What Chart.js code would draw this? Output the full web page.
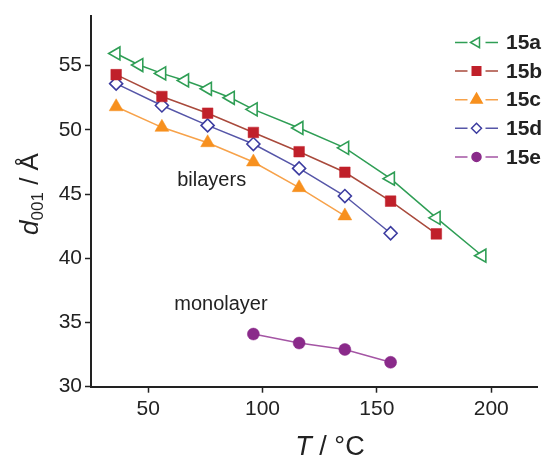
<!DOCTYPE html>
<html>
<head>
<meta charset="utf-8">
<script src="https://cdn.jsdelivr.net/npm/chart.js@4/dist/chart.umd.min.js"></script>
<style>
  body { margin: 0; background: #fff; }
  #wrap { width: 547px; height: 456px; }
</style>
</head>
<body>
<div id="wrap"><canvas id="chart" width="547" height="456"></canvas></div>
<script>
// values (T in degC, d001 in Angstrom)
var temps15a = [36, 46, 56, 66, 76, 86, 96, 116, 136, 156, 176, 196];
var d15a = [55.95, 55.05, 54.4, 53.85, 53.2, 52.5, 51.6, 50.15, 48.6, 46.2, 43.15, 40.2];
var temps15b = [36, 56, 76, 96, 116, 136, 156, 176];
var d15b = [54.3, 52.6, 51.3, 49.8, 48.3, 46.7, 44.45, 41.9];
var temps15c = [36, 56, 76, 96, 116, 136];
var d15c = [51.8, 50.2, 49.0, 47.5, 45.5, 43.3];
var temps15d = [36, 56, 76, 96, 116, 136, 156];
var d15d = [53.6, 51.9, 50.35, 48.9, 47.0, 44.85, 41.95];
var temps15e = [96, 116, 136, 156];
var d15e = [34.1, 33.4, 32.9, 31.9];

var seriesNames = ['15a', '15b', '15c', '15d', '15e'];
var xTicks = [50, 100, 150, 200];
var yTicks = [30, 35, 40, 45, 50, 55];
var notes = [
  { text: 'bilayers', x: 62.7, y: 45.6 },
  { text: 'monolayer', x: 61.4, y: 36.0 }
];

var FONT = '"Liberation Sans", Arial, Helvetica, sans-serif';
var INK = '#222222';

function toPoints(xs, ys) {
  return xs.map(function (x, i) { return { x: x, y: ys[i] }; });
}

// line colour, marker colour, marker style
var styles = [
  { line: '#2f9e55', mark: '#2f9e55', shape: 'triangle', rot: -90, r: 7.5, hollow: true },
  { line: '#a94a3c', mark: '#c0202a', shape: 'rect', r: 7.5, hollow: false },
  { line: '#f7a24a', mark: '#f7901e', shape: 'triangle', rot: 0, r: 8, hollow: false },
  { line: '#5656a8', mark: '#3c3ca0', shape: 'rectRot', r: 6.5, hollow: true },
  { line: '#a455a4', mark: '#8a2a8a', shape: 'circle', r: 6, hollow: false }
];

var allX = [temps15a, temps15b, temps15c, temps15d, temps15e];
var allY = [d15a, d15b, d15c, d15d, d15e];

var datasets = seriesNames.map(function (name, i) {
  var s = styles[i];
  return {
    label: name,
    data: toPoints(allX[i], allY[i]),
    borderColor: s.line,
    borderWidth: 1.5,
    pointStyle: s.shape,
    rotation: s.rot || 0,
    pointRadius: s.r,
    pointHoverRadius: s.r,
    pointBackgroundColor: s.hollow ? '#ffffff' : s.mark,
    pointBorderColor: s.mark,
    pointBorderWidth: s.hollow ? 1.6 : 0.5,
    tension: 0,
    fill: false
  };
});

// titles, in-plot notes and the overlay legend
var extras = {
  id: 'extras',
  afterDraw: function (chart) {
    var ctx = chart.ctx;
    var xs = chart.scales.x, ys = chart.scales.y;
    ctx.save();
    ctx.fillStyle = INK;

    // notes
    ctx.font = '20px ' + FONT;
    ctx.textAlign = 'left';
    ctx.textBaseline = 'alphabetic';
    notes.forEach(function (n) {
      ctx.fillText(n.text, xs.getPixelForValue(n.x), ys.getPixelForValue(n.y));
    });

    // x title: T / °C
    ctx.font = 'italic 27px ' + FONT;
    var wT = ctx.measureText('T').width;
    ctx.font = '27px ' + FONT;
    var rest = ' / \u00B0C';
    var wR = ctx.measureText(rest).width;
    var x0 = 330 - (wT + wR) / 2;
    ctx.font = 'italic 27px ' + FONT;
    ctx.fillText('T', x0, 455);
    ctx.font = '27px ' + FONT;
    ctx.fillText(rest, x0 + wT, 455);

    // y title: d001 / Å
    ctx.save();
    ctx.translate(38, 194);
    ctx.rotate(-Math.PI / 2);
    ctx.font = 'italic 26px ' + FONT;
    var wd = ctx.measureText('d').width;
    ctx.font = '17px ' + FONT;
    var ws = ctx.measureText('001').width;
    ctx.font = '26px ' + FONT;
    var wa = ctx.measureText(' / \u00C5').width;
    var sx = -(wd + ws + wa) / 2;
    ctx.font = 'italic 26px ' + FONT;
    ctx.fillText('d', sx, 0);
    ctx.font = '17px ' + FONT;
    ctx.fillText('001', sx + wd, 5);
    ctx.font = '26px ' + FONT;
    ctx.fillText(' / \u00C5', sx + wd + ws, 0);
    ctx.restore();

    // legend
    var lx0 = 455, lx1 = 498, mx = 476.5, tx = 506;
    seriesNames.forEach(function (name, i) {
      var s = styles[i];
      var y = 42.5 + i * 28.6;
      ctx.strokeStyle = s.line;
      ctx.lineWidth = 1.5;
      ctx.beginPath();
      ctx.moveTo(lx0, y); ctx.lineTo(mx - 9, y);
      ctx.moveTo(mx + 9, y); ctx.lineTo(lx1, y);
      ctx.stroke();
      ctx.fillStyle = s.hollow ? '#ffffff' : s.mark;
      ctx.strokeStyle = s.mark;
      Chart.helpers.drawPoint(ctx, {
        pointStyle: s.shape,
        rotation: s.rot || 0,
        radius: s.r - 1.5,
        borderWidth: s.hollow ? 1.6 : 0.5
      }, mx, y);
      ctx.fillStyle = INK;
      ctx.font = 'bold 21px ' + FONT;
      ctx.textBaseline = 'middle';
      ctx.fillText(name, tx, y + 1);
    });
    ctx.restore();
  }
};

function keepTicks(list) {
  return function (scale) {
    scale.ticks = list.map(function (v) { return { value: v }; });
  };
}

new Chart(document.getElementById('chart'), {
  type: 'line',
  data: { datasets: datasets },
  options: {
    responsive: false,
    animation: false,
    layout: { padding: { top: 11.6, right: 0, left: 0, bottom: 0 } },
    plugins: {
      legend: { display: false },
      tooltip: { enabled: false }
    },
    scales: {
      x: {
        type: 'linear',
        min: 25,
        max: 220.4,
        afterBuildTicks: keepTicks(xTicks),
        afterFit: function (s) { s.height = 69.3; },
        ticks: {
          font: { family: FONT, size: 21 },
          color: INK,
          padding: 4,
          maxRotation: 0
        },
        grid: { drawOnChartArea: false, tickLength: 6, tickColor: INK, tickWidth: 1.5 },
        border: { color: INK, width: 2 }
      },
      y: {
        min: 30,
        max: 58.9,
        afterBuildTicks: keepTicks(yTicks),
        afterFit: function (s) { s.width = 91; },
        ticks: {
          font: { family: FONT, size: 21 },
          color: INK,
          padding: 3
        },
        grid: { drawOnChartArea: false, tickLength: 6, tickColor: INK, tickWidth: 1.5 },
        border: { color: INK, width: 2 }
      }
    }
  },
  plugins: [extras]
});
</script>
</body>
</html>
